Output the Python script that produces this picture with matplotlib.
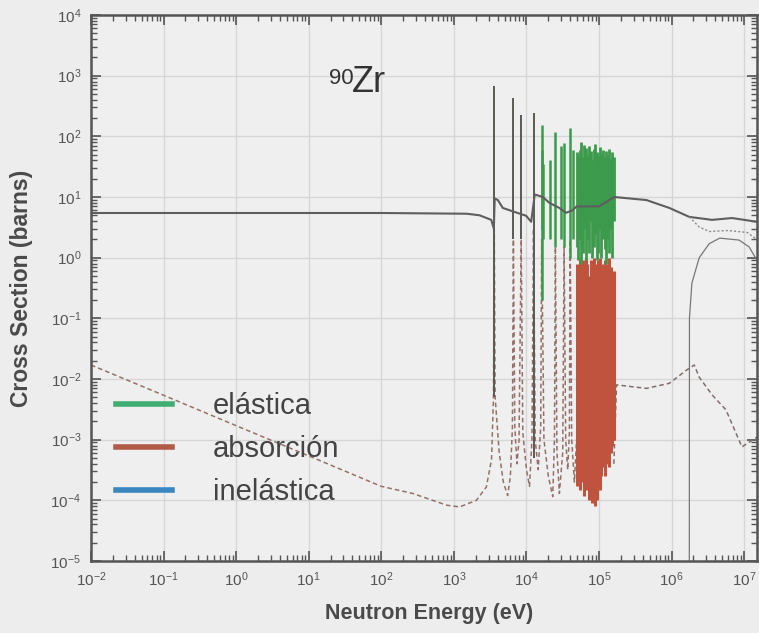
import matplotlib
matplotlib.use("Agg")
import matplotlib.pyplot as plt
from matplotlib.lines import Line2D
import numpy as np

plt.rcParams['font.family'] = ['Liberation Sans', 'DejaVu Sans']
plt.rcParams['mathtext.fontset'] = 'custom'
plt.rcParams['mathtext.rm'] = 'Liberation Sans'

# elastic, smooth part (eV, barns)
el_E = [1e-2, 1e2, 1.5e3, 2.25e3, 3.27e3, 3.55e3, 3.65e3, 4.03e3, 4.72e3, 6.48e3,
        9.9e3, 1.16e4, 1.3e4, 1.68e4, 2.07e4, 2.84e4, 3.5e4, 4.3e4, 4.9e4,
        1.0e5, 1.62e5, 4.5e5, 9.3e5, 1.75e6, 3.6e6, 6.8e6, 1.5e7]
el_sig = [5.45, 5.45, 5.3, 5.0, 4.2, 3.0, 9.5, 8.9, 6.6, 5.8,
          4.9, 3.9, 11, 10, 8, 6.6, 5.5, 6.0, 7.0,
          7.0, 10, 8.9, 6.6, 4.7, 4.2, 4.5, 3.9]

# isolated elastic resonances: energy, peak, dip
res_E = [3.6e3, 6.6e3, 8.45e3, 1.25e4, 1.62e4, 1.66e4, 1.7e4, 2.1e4, 2.5e4, 3.0e4, 3.3e4, 4.0e4, 4.4e4]
res_peak = [680, 425, 225, 240, 155, 60, 35, 40, 118, 68, 78, 138, 60]
res_dip = [5e-3, 2, 2, 5e-4, 0.2, 3, 2, 2, 1.5, 2, 1.5, 1, 2]
res_green = [False, False, False, False, True, True, True, True, True, True, True, True, True]

# absorption below the dense region
ab_E = [1e-2, 0.1, 1, 10, 100, 270, 800, 1200, 2040, 2800, 3300, 3510, 3600,
        3700, 4200, 4800, 5500, 6000, 6400, 6600, 6900, 7400, 7900, 8450,
        8900, 1.0e4, 1.1e4, 1.19e4, 1.25e4, 1.32e4, 1.45e4, 1.57e4, 1.62e4,
        1.74e4, 2.0e4, 2.3e4, 2.43e4, 2.5e4, 2.63e4, 2.84e4, 3.16e4, 3.3e4,
        3.47e4, 3.7e4, 3.9e4, 4.0e4, 4.2e4, 4.57e4, 4.9e4]
ab_sig = [1.7e-2, 5.4e-3, 1.7e-3, 5.4e-4, 1.7e-4, 1.3e-4, 8.3e-5, 7.8e-5, 1.0e-4, 1.66e-4, 4.7e-4, 5e-3, 3,
          5e-3, 6.3e-4, 2e-4, 1.2e-4, 2.5e-4, 1.6e-3, 2, 1.6e-3, 4e-4, 1e-3, 2,
          1.3e-3, 3.2e-4, 1.7e-4, 1e-3, 3, 1e-3, 3.2e-4, 1.6e-3, 2,
          1e-3, 2.5e-4, 1.15e-4, 1e-3, 1.5, 6.3e-4, 1.3e-4, 6.3e-4, 1.5,
          1e-3, 3.2e-4, 1.3e-3, 2, 1e-3, 2e-4, 1e-3]

# absorption above the resonance region
ab2_E = [1.6e5, 1.74e5, 4.5e5, 9.3e5, 1.6e6, 2.05e6, 2.4e6, 3.6e6, 5.6e6, 9.3e6, 1.5e7]
ab2_sig = [4e-4, 8e-3, 7e-3, 8.5e-3, 1.4e-2, 1.7e-2, 1.07e-2, 5.5e-3, 3.1e-3, 7.6e-4, 1.1e-3]

# dense resonance region
dense_E = [4.9e4, 5.1e4, 5.4e4, 5.7e4, 6.0e4, 6.3e4, 6.6e4, 6.9e4, 7.3e4, 7.7e4, 8.1e4, 8.5e4,
           8.9e4, 9.3e4, 9.8e4, 1.03e5, 1.08e5, 1.13e5, 1.19e5, 1.25e5, 1.31e5, 1.38e5,
           1.45e5, 1.53e5, 1.6e5]
dense_el_peak = [55, 48, 60, 80, 45, 72, 65, 50, 70, 58, 40, 62, 75, 55, 48, 66, 52, 60, 45, 58, 50, 62, 42, 55, 45]
dense_el_dip = [1.5, 0.9, 2, 0.8, 1.2, 3, 0.9, 2, 1.2, 4, 1.0, 1.5, 2.5, 0.9, 1.2, 3, 1.0, 2, 1.4, 0.8, 2, 1.2, 3, 1.0, 4]
dense_ab_peak = [0.8, 0.5, 1.0, 0.7, 0.9, 0.6, 1.0, 0.8, 0.5, 0.9, 0.7, 1.0, 0.8, 0.6, 0.9, 1.0, 0.7,
                 0.8, 0.9, 0.6, 0.8, 1.0, 0.7, 0.5, 0.6]
dense_ab_dip = [1.7e-4, 3e-4, 1.5e-4, 4e-4, 2e-4, 1.2e-4, 3e-4, 1.5e-4, 1e-4, 2.5e-4, 9e-5, 1.2e-4,
                8e-5, 1e-4, 2e-4, 1.5e-4, 2.5e-4, 3.5e-4, 2.5e-4, 4e-4, 5e-4, 3.5e-4, 6e-4, 8e-4, 1e-3]

# inelastic and the dotted curve above threshold
inel_E = [1.75e6, 1.76e6, 1.9e6, 2.4e6, 3.3e6, 4.6e6, 8.5e6, 1.17e7, 1.5e7]
inel_sig = [1e-6, 0.1, 0.38, 1.0, 1.7, 2.1, 1.95, 1.5, 0.9]
dot_E = [1.75e6, 2.4e6, 3.3e6, 6e6, 1.1e7, 1.5e7]
dot_sig = [4.7, 3.2, 2.7, 2.8, 2.6, 2.0]

labels = ['elástica', 'absorción', 'inelástica']
colors = ['#3fae72', '#b25a48', '#3a86c0']

bg = '#ededed'
fig = plt.figure(figsize=(7.59, 6.33), dpi=100, facecolor=bg)
ax = fig.add_axes([91/759, 1-561/633, (757-91)/759, (561-15)/633])
ax.set_facecolor('#efefef')
ax.set_xscale('log')
ax.set_yscale('log')
ax.set_xlim(1e-2, 1.5e7)
ax.set_ylim(1e-5, 1e4)

ax.grid(True, which='major', color='#d6d6d6', lw=1)
ax.set_axisbelow(True)

# absorption
ax.plot(ab_E, ab_sig, ls=(0, (3, 2)), color='#957068', lw=1.1)
ax.plot(ab2_E, ab2_sig, ls=(0, (3, 2)), color='#7f6f6c', lw=1.1)
ax.vlines(dense_E, dense_ab_dip, dense_ab_peak, color='#c0533e', lw=2.2)

# elastic
ax.vlines(dense_E, dense_el_dip, dense_el_peak, color='#3c9a4c', lw=2.0)
g = np.array(res_green)
rE = np.array(res_E)
ax.vlines(rE[~g], np.array(res_dip)[~g], np.array(res_peak)[~g], color='#5a5a55', lw=1.4)
ax.vlines(rE[g], np.array(res_dip)[g], np.array(res_peak)[g], color='#3c9a4c', lw=1.8)
ax.plot(el_E, el_sig, color='#5e5e5e', lw=1.5)

# inelastic
ax.plot(inel_E, inel_sig, color='#777777', lw=0.9)
ax.plot(dot_E, dot_sig, color='#8a8a8a', lw=1.0, ls=(0, (1.5, 1.5)))

for s in ax.spines.values():
    s.set_color('#555555')
    s.set_linewidth(1.8)
ax.tick_params(which='both', direction='in', top=True, right=True, colors='#555555',
               labelcolor='#555555', labelsize=11)
ax.tick_params(which='major', length=7, width=1.2, pad=7)
ax.tick_params(which='minor', length=4, width=1.0)
ax.xaxis.set_major_locator(matplotlib.ticker.LogLocator(base=10, numticks=20))
ax.yaxis.set_major_locator(matplotlib.ticker.LogLocator(base=10, numticks=20))
ax.xaxis.set_minor_locator(matplotlib.ticker.LogLocator(base=10, subs=np.arange(2, 10), numticks=20))
ax.yaxis.set_minor_locator(matplotlib.ticker.LogLocator(base=10, subs=np.arange(2, 10), numticks=20))
ax.xaxis.set_minor_formatter(matplotlib.ticker.NullFormatter())
ax.yaxis.set_minor_formatter(matplotlib.ticker.NullFormatter())

fig.text(22/759, 1-288/633, 'Cross Section (barns)', rotation=90, ha='center', va='center',
         fontsize=16.5, fontweight='bold', color='#4a4a4a')
fig.text(429/759, 1-613/633, 'Neutron Energy (eV)', ha='center', va='center',
         fontsize=15.5, fontweight='bold', color='#4a4a4a')

fig.text(329/759, 1-84/633, '90', fontsize=16, color='#333333', va='baseline')
fig.text(352/759, 1-92/633, 'Zr', fontsize=26, color='#333333', va='baseline')

handles = [Line2D([], [], color=c, lw=4) for c in colors]
leg = ax.legend(handles, labels, loc='upper left', bbox_to_anchor=(0.038, 0.31),
                frameon=False, fontsize=21, handlelength=1.9, handletextpad=1.4,
                labelspacing=0.52, borderaxespad=0, borderpad=0)
for t in leg.get_texts():
    t.set_color('#444444')

fig.savefig('out.png', dpi=100, facecolor=bg)
